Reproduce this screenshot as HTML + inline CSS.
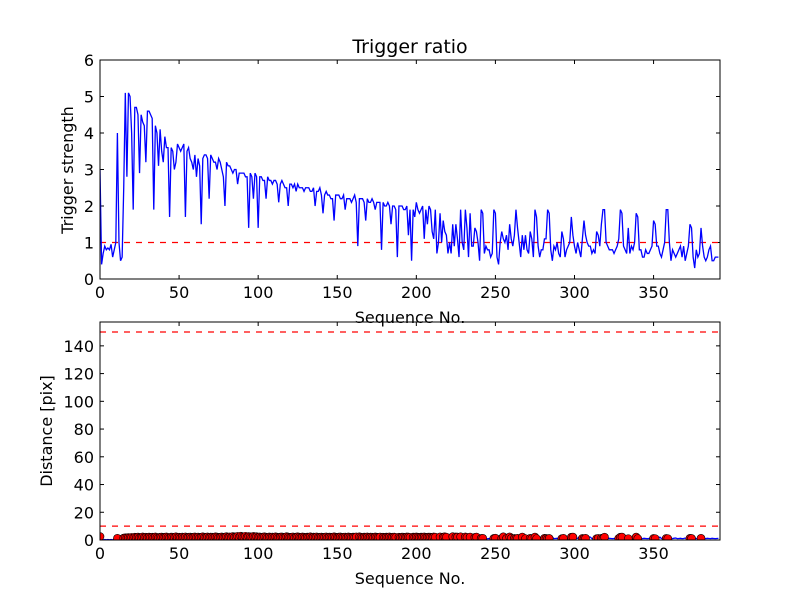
<!DOCTYPE html>
<html><head><meta charset="utf-8"><style>
body{margin:0;background:#fff;}
svg text{font-family:"DejaVu Sans","Liberation Sans",sans-serif;fill:#000;}
</style></head><body>
<svg id="chart" width="800" height="600" xmlns="http://www.w3.org/2000/svg">
<rect width="800" height="600" fill="#fff"/>
</svg>
<script>
const ratio = [
3.0,0.4,0.7,0.9,0.8,0.85,0.8,0.95,0.6,0.8,
1.0,4.0,1.0,0.5,0.6,2.5,5.1,2.8,5.1,5.0,
4.0,1.9,4.7,4.7,4.5,2.9,4.5,4.3,4.2,3.2,
4.6,4.6,4.5,4.4,1.9,4.2,4.0,3.1,4.1,3.5,
3.2,3.9,3.6,3.6,1.7,3.6,3.5,3.0,3.2,3.7,
3.6,3.5,3.6,3.7,1.7,3.5,3.6,3.3,3.2,3.0,
3.4,2.8,3.3,3.1,1.5,3.3,3.4,3.4,3.3,2.2,
3.4,3.3,3.2,3.2,3.0,3.3,3.2,3.0,2.8,2.0,
3.2,3.1,3.1,3.0,2.9,3.0,3.0,2.6,2.9,2.9,
2.9,2.9,2.8,2.8,1.4,2.9,2.8,2.2,2.9,2.8,
1.4,2.8,2.8,2.7,2.7,2.2,2.8,2.7,2.7,2.6,
2.7,2.7,2.6,2.1,2.6,2.7,2.6,2.5,2.5,2.0,
2.6,2.6,2.5,2.6,2.4,2.6,2.5,2.5,2.5,2.4,
2.5,2.5,2.5,2.4,2.4,2.5,2.0,2.4,2.4,2.5,
2.3,1.8,2.3,2.4,2.3,2.3,2.2,2.2,1.6,2.3,
2.3,2.3,2.2,2.2,2.3,1.9,2.2,2.2,2.2,2.1,
2.2,2.3,2.1,0.9,2.2,2.2,2.2,2.1,1.6,2.2,
2.1,2.1,2.2,2.1,1.9,2.1,2.1,2.1,0.8,2.1,
2.0,2.0,2.1,2.0,1.5,2.0,2.0,1.9,0.6,2.0,
2.0,2.0,1.9,1.9,2.0,1.2,1.9,0.5,1.9,1.7,
2.1,1.9,1.8,1.9,2.0,1.1,1.9,1.5,2.0,1.9,
1.3,1.1,1.9,0.7,1.0,1.8,1.0,1.6,1.3,1.2,
0.7,1.0,0.7,1.5,0.9,1.5,1.1,0.6,1.9,1.0,
0.8,1.9,1.4,0.6,1.8,0.9,0.9,1.4,1.3,1.0,
0.5,1.9,1.8,0.7,0.9,0.8,0.8,0.6,0.7,1.9,
1.8,0.6,0.4,1.0,1.3,1.1,1.0,1.2,0.8,1.5,
1.1,0.9,1.2,1.9,1.4,1.0,0.6,1.2,0.8,1.2,
0.8,0.7,1.3,1.1,0.6,1.9,1.7,0.9,0.6,0.8,
0.8,1.1,1.1,1.9,1.8,0.8,0.5,0.9,0.8,1.0,
0.7,0.6,1.3,1.1,0.6,0.8,0.9,1.0,1.7,1.2,
0.9,0.7,1.0,0.8,0.6,1.1,1.6,1.2,1.0,0.9,
0.9,0.7,0.8,0.7,1.3,1.2,0.9,1.5,1.9,1.9,
1.0,0.9,0.8,0.8,0.8,0.7,0.8,0.9,1.1,1.9,
1.8,0.9,0.8,0.7,1.4,0.7,0.9,0.8,1.0,1.8,
1.7,0.8,0.8,0.6,0.6,0.8,0.7,0.7,0.8,0.9,
1.6,1.5,0.9,0.9,0.7,0.6,0.8,1.0,1.9,1.9,
1.0,0.5,0.8,0.7,0.6,0.7,0.8,0.9,0.6,0.9,
0.5,0.7,0.9,1.5,1.4,0.6,0.3,0.8,0.6,0.7,
1.4,0.9,0.6,0.5,0.6,0.8,0.9,0.5,0.5,0.6,
0.6,0.6];
const distance = [
2.5,0.3,0.2,0.3,0.2,0.3,0.2,0.3,0.2,0.3,0.5,1.2,0.4,0.3,0.3,1.4,1.6,1.5,1.8,1.7,
1.9,1.6,2.0,1.8,2.1,1.7,1.9,2.2,1.8,2.0,1.7,2.1,1.9,2.0,1.8,2.2,1.9,1.7,2.0,2.1,
1.8,2.0,2.2,1.9,1.7,2.1,2.0,1.8,2.3,1.9,2.0,1.8,2.1,1.9,2.2,1.7,2.0,2.1,1.8,2.0,
2.2,1.9,2.1,1.8,2.0,2.3,1.9,2.0,2.2,1.8,2.1,2.0,1.9,2.3,2.1,1.8,2.0,2.2,1.9,2.1,
2.4,2.0,2.2,1.9,2.5,2.1,2.3,2.6,2.0,2.8,2.4,2.2,2.7,2.1,2.5,2.3,2.0,2.6,2.2,2.4,
2.0,2.2,1.9,2.1,2.3,2.0,1.8,2.2,2.0,2.1,1.9,2.3,2.0,1.8,2.1,2.2,1.9,2.0,2.4,2.1,
1.9,2.0,2.2,1.8,2.1,2.3,2.0,1.9,2.2,2.0,1.8,2.1,2.0,2.3,1.9,2.1,2.0,2.2,1.8,2.0,
2.1,1.9,2.0,2.2,1.8,2.1,2.0,1.9,2.3,2.0,1.8,2.1,2.2,1.9,2.0,2.1,1.8,2.2,2.0,1.9,
2.1,2.0,2.2,1.9,2.3,2.0,1.8,2.1,2.0,2.2,1.9,2.1,2.0,1.8,2.2,2.0,1.9,2.1,2.3,2.0,
1.9,2.1,2.0,2.2,1.8,2.0,2.1,1.9,2.2,2.0,1.8,2.1,2.0,1.9,2.2,2.1,1.9,2.0,2.1,2.0,
2.2,2.0,1.9,2.1,2.0,2.2,1.9,2.0,2.1,2.0,1.9,2.2,2.0,2.1,1.9,2.2,2.0,2.1,2.3,2.0,
2.2,2.1,1.9,2.4,2.0,2.2,2.1,1.9,2.3,2.0,2.1,2.2,1.9,2.6,2.1,2.0,2.2,1.9,2.1,2.0,
1.0,1.1,1.2,2.6,1.0,0.9,1.1,1.0,1.2,1.1,1.3,1.2,2.1,1.0,1.1,2.3,2.0,1.1,1.0,2.2,
1.2,1.0,1.1,1.0,1.2,2.0,1.1,2.1,2.2,1.0,1.1,2.1,1.2,1.0,1.1,2.1,1.0,1.1,2.0,1.2,
1.0,1.2,1.1,1.0,1.1,1.2,2.0,1.0,1.1,1.2,1.0,1.1,1.0,1.2,2.1,1.0,1.1,2.2,2.0,2.1,
1.0,1.1,1.2,2.3,1.0,1.1,1.0,1.2,1.0,2.2,2.1,1.0,1.1,1.2,1.0,1.1,1.0,1.2,1.1,2.0,
1.1,1.0,1.2,1.1,1.0,1.1,1.2,1.0,1.1,2.0,2.1,1.0,1.2,1.1,1.0,1.1,1.2,1.0,1.1,2.1,
1.0,1.2,1.1,1.0,1.2,1.1,1.0,1.1,1.2,1.0,1.1,1.0,1.2,1.0,2.1,1.1,1.0,1.2,1.1,1.0,
1.1,1.2,1.0,1.3,1.4,1.0,1.1,1.2,1.0,1.1,1.4,1.0,1.1,1.2,1.1,1.0,1.2,1.1,1.0,1.1,
1.2,1.1,1.3,1.0,1.2,1.1,1.0,1.2,1.1,1.0,1.1,1.2];
const xTicks = [0,50,100,150,200,250,300,350];
const yTicksTop = [0,1,2,3,4,5,6];
const yTicksBot = [0,20,40,60,80,100,120,140];
const thresholdTop = [1];
const thresholdBot = [10,150];
const xMax = 392, yMaxTop = 6, yMaxBot = 157.2;

const NS = "http://www.w3.org/2000/svg";
const svg = document.getElementById('chart');
function mk(tag, attrs, parent){const e=document.createElementNS(NS,tag);for(const k in attrs)e.setAttribute(k,attrs[k]);(parent||svg).appendChild(e);return e;}

const L=100,R=720;
const top1=60,bot1=279,top2=322,bot2=540;
const xs = v => L + v/xMax*(R-L);
const yT = v => bot1 - v/yMaxTop*(bot1-top1);
const yB = v => bot2 - v/yMaxBot*(bot2-top2);

function axes(top,bot,ys,yticks,name,clipId){
  const g=mk('g',{});
  
  
  const cp=mk('clipPath',{id:clipId},g);
  mk('rect',{x:L,y:top,width:R-L,height:bot-top},cp);
  xTicks.forEach(t=>{
    const x=xs(t);
    mk('line',{x1:x,x2:x,y1:bot,y2:bot-4,stroke:'#000'},g);
    mk('line',{x1:x,x2:x,y1:top,y2:top+4,stroke:'#000'},g);
    const tx=mk('text',{x:x,y:bot+19,'text-anchor':'middle','font-size':16},g);
    tx.textContent=t;
    
    
  });
  yticks.forEach(t=>{
    const y=ys(t);
    mk('line',{x1:L,x2:L+4,y1:y,y2:y,stroke:'#000'},g);
    mk('line',{x1:R,x2:R-4,y1:y,y2:y,stroke:'#000'},g);
    const tx=mk('text',{x:L-6,y:y+6,'text-anchor':'end','font-size':16},g);
    tx.textContent=t;
    
    
  });
  return g;
}

// Top plot
const g1=axes(top1,bot1,yT,yTicksTop,'top','c1');
const pg1=mk('g',{'clip-path':'url(#c1)'});


thresholdTop.forEach(v=>{
  const l=mk('line',{x1:L,x2:R,y1:yT(v),y2:yT(v),stroke:'#f00','stroke-width':1.3,'stroke-dasharray':'6,6'},pg1);
  
  
});
const p1=mk('polyline',{points:ratio.map((v,i)=>xs(i)+','+yT(v)).join(' '),fill:'none',stroke:'#00f','stroke-width':1.3},pg1);


mk('rect',{x:L,y:top1,width:R-L,height:bot1-top1,fill:'none',stroke:'#000','stroke-width':1});
let t=mk('text',{x:410,y:53,'text-anchor':'middle','font-size':19});t.textContent='Trigger ratio';


t=mk('text',{x:410,y:323,'text-anchor':'middle','font-size':16});t.textContent='Sequence No.';


t=mk('text',{x:73,y:170,'text-anchor':'middle','font-size':16,transform:'rotate(-90 73 170)'});t.textContent='Trigger strength';



// Bottom plot
const g2=axes(top2,bot2,yB,yTicksBot,'bottom','c2');
const pg2=mk('g',{'clip-path':'url(#c2)'});


thresholdBot.forEach(v=>{
  const l=mk('line',{x1:L,x2:R,y1:yB(v),y2:yB(v),stroke:'#f00','stroke-width':1.3,'stroke-dasharray':'6,6'},pg2);
  
  
});
const p2=mk('polyline',{points:distance.map((v,i)=>xs(i)+','+yB(v)).join(' '),fill:'none',stroke:'#00f','stroke-width':1.3},pg2);


distance.forEach((v,i)=>{
  if(ratio[i]>1 || i===0){
    const c=mk('circle',{cx:xs(i),cy:yB(v),r:4,fill:'#f00',stroke:'#000','stroke-width':0.6},pg2);
    
    
  }
});
mk('rect',{x:L,y:top2,width:R-L,height:bot2-top2,fill:'none',stroke:'#000','stroke-width':1});
t=mk('text',{x:410,y:584,'text-anchor':'middle','font-size':16});t.textContent='Sequence No.';


t=mk('text',{x:52,y:431,'text-anchor':'middle','font-size':16,transform:'rotate(-90 52 431)'});t.textContent='Distance [pix]';


</script>
</body></html>
